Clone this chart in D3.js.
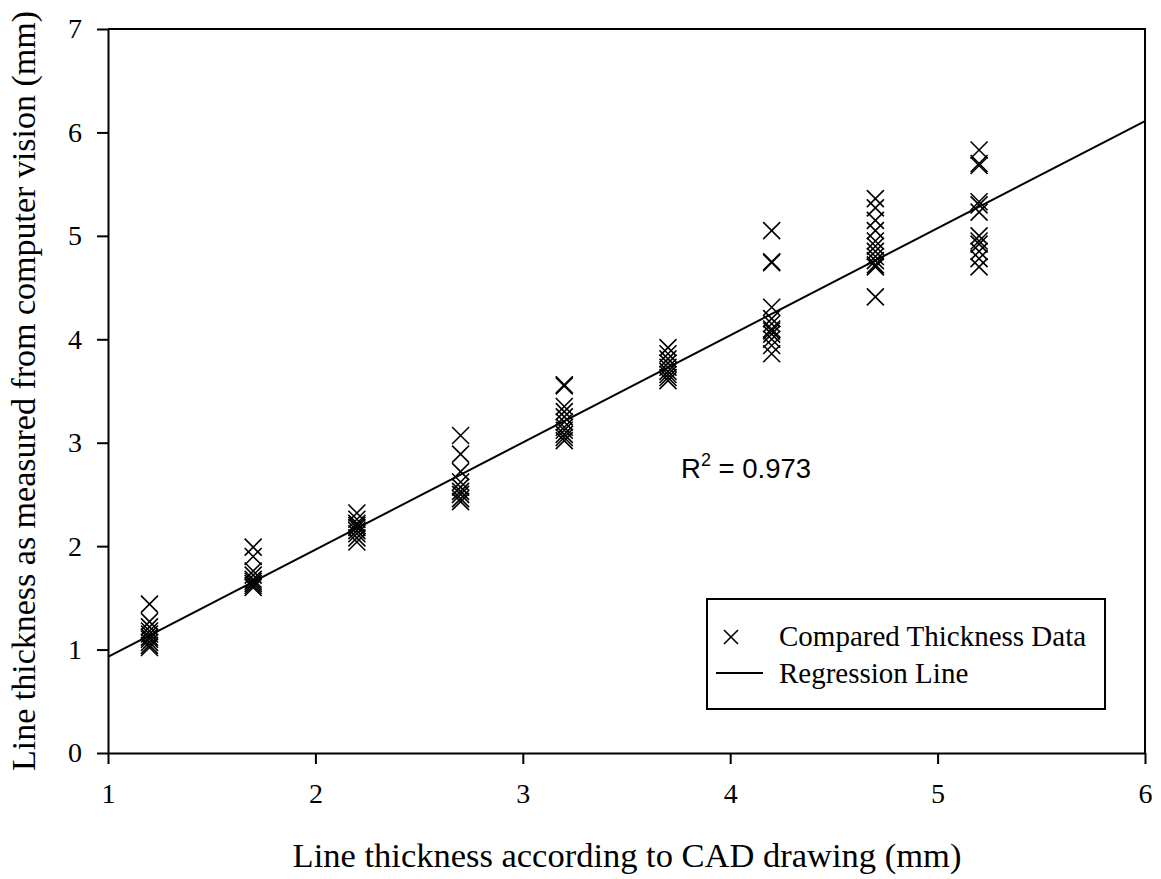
<!DOCTYPE html>
<html lang="en">
<head>
    <meta charset="UTF-8">
    <title>Line thickness: computer vision vs CAD</title>
    <script src="https://d3js.org/d3.v7.min.js"></script>
    <style>
        body {
            margin: 0;
            padding: 0;
            background-color: #fff;
        }
        .axis path, .axis line {
            stroke: #000;
            stroke-width: 2px;
        }
        .serif {
            font-family: "Liberation Serif", "Times New Roman", serif;
        }
    </style>
</head>
<body>
    <div id="chart"></div>

    <script>
        // CAD thickness groups (mm)
        const cadValues = [1.2, 1.7, 2.2, 2.7, 3.2, 3.7, 4.2, 4.7, 5.2];

        // measured thickness per group (mm)
        const measured12 = [1.44, 1.27, 1.22, 1.18, 1.15, 1.12, 1.10, 1.07, 1.04, 1.02];
        const measured17 = [1.99, 1.90, 1.76, 1.72, 1.68, 1.66, 1.64, 1.62, 1.60];
        const measured22 = [2.32, 2.26, 2.22, 2.20, 2.18, 2.15, 2.12, 2.08, 2.04];
        const measured27 = [3.07, 2.89, 2.72, 2.62, 2.57, 2.53, 2.50, 2.46, 2.43];
        const measured32 = [3.56, 3.55, 3.35, 3.30, 3.25, 3.20, 3.15, 3.12, 3.08, 3.05, 3.02];
        const measured37 = [3.92, 3.86, 3.81, 3.77, 3.73, 3.69, 3.66, 3.63, 3.60];
        const measured42 = [5.05, 4.75, 4.74, 4.31, 4.20, 4.15, 4.10, 4.08, 4.05, 4.00, 3.94, 3.86];
        const measured47 = [5.36, 5.27, 5.15, 5.05, 4.95, 4.90, 4.85, 4.80, 4.76, 4.72, 4.70, 4.41];
        const measured52 = [5.83, 5.70, 5.68, 5.33, 5.30, 5.23, 5.00, 4.95, 4.92, 4.85, 4.78, 4.70];

        const measuredGroups = [measured12, measured17, measured22, measured27, measured32,
                                measured37, measured42, measured47, measured52];

        // regression line y = slope * x + intercept
        const slope = 1.036;
        const intercept = -0.106;
        const rSquared = "0.973";

        const xTicks = [1, 2, 3, 4, 5, 6];
        const yTicks = [0, 1, 2, 3, 4, 5, 6, 7];

        const legendLabels = ["Compared Thickness Data", "Regression Line"];

        const data = [];
        cadValues.forEach((cad, i) => {
            measuredGroups[i].forEach(v => data.push({ x: cad, y: v }));
        });

        const width = 1161, height = 879;
        const margin = { top: 29, right: 16, bottom: 126, left: 108 };

        const svg = d3.select("#chart")
            .append("svg")
            .attr("width", width)
            .attr("height", height);

        const x = d3.scaleLinear()
            .domain([1, 6])
            .range([margin.left, width - margin.right]);

        const y = d3.scaleLinear()
            .domain([0, 7])
            .range([height - margin.bottom, margin.top]);

        // frame (top and right)
        svg.append("path")
            .attr("d", `M${x(1)},${y(7)}H${x(6)}V${y(0)}`)
            .attr("fill", "none")
            .attr("stroke", "#000")
            .attr("stroke-width", 2);

        svg.append("g")
            .attr("class", "axis")
            .attr("transform", `translate(0,${y(0)})`)
            .call(d3.axisBottom(x).tickValues(xTicks).tickFormat(d3.format("d"))
                .tickSize(11).tickSizeOuter(0).tickPadding(19))
            .selectAll("text")
            .attr("class", "serif")
            .style("font-size", "28px")
            .style("fill", "#000");

        svg.append("g")
            .attr("class", "axis")
            .attr("transform", `translate(${x(1)},0)`)
            .call(d3.axisLeft(y).tickValues(yTicks).tickFormat(d3.format("d"))
                .tickSize(11).tickSizeOuter(0).tickPadding(15))
            .selectAll("text")
            .attr("class", "serif")
            .style("font-size", "28px")
            .style("fill", "#000");

        // regression line
        svg.append("line")
            .attr("x1", x(1))
            .attr("y1", y(slope * 1 + intercept))
            .attr("x2", x(6))
            .attr("y2", y(slope * 6 + intercept))
            .attr("stroke", "#000")
            .attr("stroke-width", 2);

        // x markers
        const m = 8.5;
        const cross = `M${-m},${-m}L${m},${m}M${-m},${m}L${m},${-m}`;

        svg.append("g")
            .selectAll("path")
            .data(data)
            .enter()
            .append("path")
            .attr("transform", d => `translate(${x(d.x)},${y(d.y)})`)
            .attr("d", cross)
            .attr("fill", "none")
            .attr("stroke", "#000")
            .attr("stroke-width", 1.6);

        // R squared
        const r2 = svg.append("text")
            .attr("x", 681)
            .attr("y", 478)
            .style("font-family", "'Liberation Sans', Arial, sans-serif")
            .style("font-size", "27.5px");
        r2.append("tspan").text("R");
        r2.append("tspan").attr("dy", -12).style("font-size", "18px").text("2");
        r2.append("tspan").attr("dy", 12).text(" = " + rSquared);

        // legend
        const legend = svg.append("g");

        legend.append("rect")
            .attr("x", 707)
            .attr("y", 599)
            .attr("width", 398)
            .attr("height", 110)
            .attr("fill", "#fff")
            .attr("stroke", "#000")
            .attr("stroke-width", 2);

        legend.append("path")
            .attr("transform", "translate(731,637)")
            .attr("d", `M-7,-7L7,7M-7,7L7,-7`)
            .attr("fill", "none")
            .attr("stroke", "#000")
            .attr("stroke-width", 1.6);

        legend.append("line")
            .attr("x1", 716)
            .attr("x2", 763)
            .attr("y1", 673)
            .attr("y2", 673)
            .attr("stroke", "#000")
            .attr("stroke-width", 2);

        legend.selectAll("text")
            .data(legendLabels)
            .enter()
            .append("text")
            .attr("class", "serif")
            .attr("x", 779)
            .attr("y", (d, i) => 646 + i * 37)
            .style("font-size", "29px")
            .text(d => d);

        // axis titles
        svg.append("text")
            .attr("class", "serif")
            .attr("x", 627)
            .attr("y", 867)
            .attr("text-anchor", "middle")
            .style("font-size", "34.5px")
            .text("Line thickness according to CAD drawing (mm)");

        svg.append("text")
            .attr("class", "serif")
            .attr("transform", `translate(35,${(y(0) + y(7)) / 2}) rotate(-90)`)
            .attr("text-anchor", "middle")
            .style("font-size", "34px")
            .text("Line thickness as measured from computer vision (mm)");
    </script>
</body>
</html>
